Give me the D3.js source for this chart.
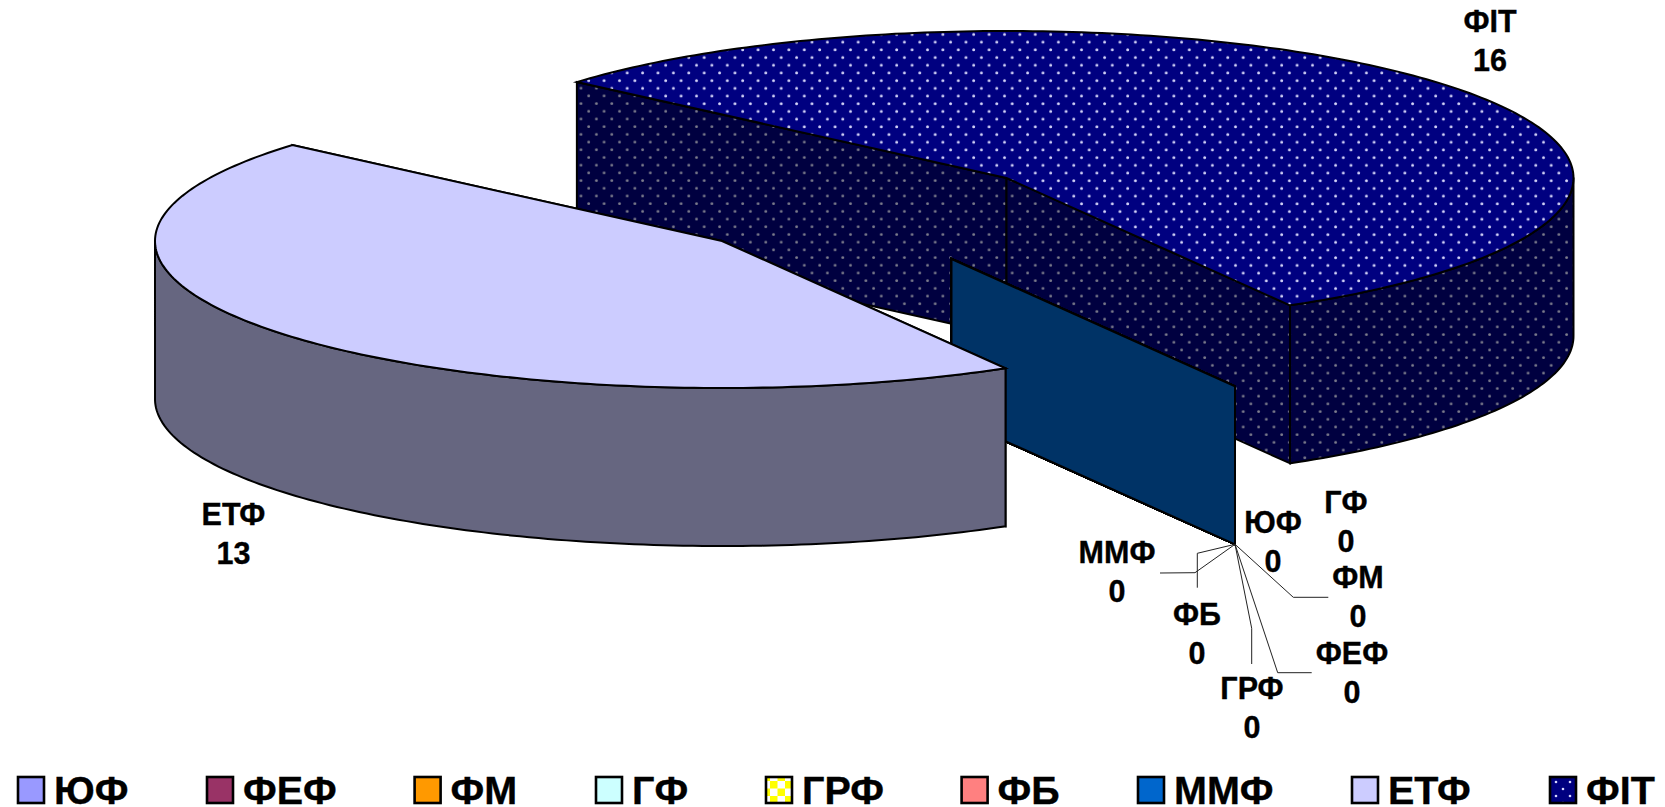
<!DOCTYPE html>
<html><head><meta charset="utf-8">
<script src="https://cdn.jsdelivr.net/npm/d3@7"></script>
<style>html,body{margin:0;padding:0;background:#fff;overflow:hidden}svg{display:block}text{font-family:"Liberation Sans",Arial,sans-serif;font-weight:bold;fill:#000;stroke:#000;stroke-width:.35px}</style>
</head><body><svg id="c" width="1665" height="807"></svg>
<script>
// ---- data ----
const categories = ["ЮФ","ФЕФ","ФМ","ГФ","ГРФ","ФБ","ММФ","ЕТФ","ФІТ"];
const values = [0,0,0,0,0,0,0,13,16];
const colors = ["#9999FF","#993366","#FF9900","#CCFFFF","#FFFF00","#FF8080","#0066CC","#CCCCFF","#000080"];

// ---- layout ----
const W=1665,H=807, RX=567, RY=147, DEPTH=158, START=150, PERSPECTIVE=0.33*Math.PI/180;
const centres = {zero:[951.5,259], "ЕТФ":[722,241], "ФІТ":[1006.5,178]};
const labelPos = {"ЮФ":[1273,522.3],"ФЕФ":[1352,653.3],"ФМ":[1358,577.3],"ГФ":[1346,502.3],"ГРФ":[1252,688.3],"ФБ":[1197,614.3],"ММФ":[1117,552.3],"ЕТФ":[233.5,514.3],"ФІТ":[1490,21.5]};
const leaders = {"ММФ":[[1195,572.7],[1160,573]],"ФБ":[[1197.3,553.3],[1197.3,587.7]],"ГРФ":[[1251.7,628.3],[1251.7,664]],"ФЕФ":[[1277.7,672.7],[1311.7,672.7]],"ФМ":[[1293.3,597.3],[1328.3,597.3]]};
const legendX = [18,207,414.6,596,766,961.6,1138,1352,1550];
const LABEL_SIZE=30.5, LABEL_LEAD=38.8, LEGEND_SIZE=39.5;

const svg=d3.select("#c");
const defs=svg.append("defs");
function dots(id,bg,dot,r){
  const p=defs.append("pattern").attr("id",id).attr("patternUnits","userSpaceOnUse").attr("width",15.4).attr("height",15.4);
  p.append("rect").attr("width",15.4).attr("height",15.4).attr("fill",bg);
  [[3.5,3.5],[11.2,11.2]].forEach(c=>p.append("circle").attr("cx",c[0]).attr("cy",c[1]).attr("r",r).attr("fill",dot));
}
dots("fitTop","#000080","#d4d4f8",1.45);
dots("fitSide","#000040","#7c7c8c",1.4);
const chk=defs.append("pattern").attr("id","chk").attr("patternUnits","userSpaceOnUse").attr("width",15).attr("height",15).attr("x",770).attr("y",781);
chk.append("rect").attr("width",15).attr("height",15).attr("fill","#fff");
chk.append("rect").attr("width",7.5).attr("height",7.5).attr("fill","#FFFF00");
chk.append("rect").attr("x",7.5).attr("y",7.5).attr("width",7.5).attr("height",7.5).attr("fill","#FFFF00");
const lg=defs.append("pattern").attr("id","fitLegend").attr("patternUnits","userSpaceOnUse").attr("width",14).attr("height",14).attr("x",1552).attr("y",778);
lg.append("rect").attr("width",14).attr("height",14).attr("fill","#000080");
[[4,4],[11,11]].forEach(c=>lg.append("circle").attr("cx",c[0]).attr("cy",c[1]).attr("r",1.3).attr("fill","#d8d8ff"));

const topFill=(c,i)=>categories[i]==="ФІТ"?"url(#fitTop)":c;
const halve=c=>{const r=d3.rgb(c);return d3.rgb(r.r/2,r.g/2,r.b/2).formatHex();};
const sideFill=(c,i)=>categories[i]==="ФІТ"?"url(#fitSide)":halve(c);

const startRad=START*Math.PI/180;
const pie=d3.pie().sort(null).startAngle(startRad).endAngle(startRad+2*Math.PI);
const arcs=pie(values).map((d,i)=>({a0:d.startAngle,a1:d.endAngle,i,name:categories[i],v:values[i]}));
const centreOf=d=>d.v===0?centres.zero:centres[d.name];
// the 3D view squeezes angles a little away from the front edge
const warp=a=>a-PERSPECTIVE*(1-Math.cos(a-startRad));
const pt=(c,a,dz=0)=>{const w=warp(a);return [c[0]+RX*Math.sin(w),c[1]-RY*Math.cos(w)+dz];};
const samples=(a0,a1)=>{const n=Math.max(2,Math.ceil(Math.abs(a1-a0)*180/Math.PI));return d3.range(n+1).map(k=>a0+(a1-a0)*k/n);};
const line=d3.line();

const g=svg.append("g").attr("stroke","#000").attr("stroke-width",2).attr("stroke-linejoin","miter");
function drawSlice(d){
  const c=centreOf(d), fillS=sideFill(colors[d.i],d.i), fillT=topFill(colors[d.i],d.i);
  [d.a0,d.a1].forEach(a=>{
    g.append("path").attr("fill",fillS).attr("d",line([c,pt(c,a),pt(c,a,DEPTH),[c[0],c[1]+DEPTH]])+"Z");
  });
  if(d.v===0) return;
  [0,2*Math.PI].forEach(k=>{
    const lo=Math.max(d.a0,Math.PI/2+k), hi=Math.min(d.a1,3*Math.PI/2+k);
    if(hi>lo){
      const s=samples(lo,hi);
      g.append("path").attr("fill",fillS).attr("d",line(s.map(a=>pt(c,a)).concat(s.slice().reverse().map(a=>pt(c,a,DEPTH))))+"Z");
    }
  });
  g.append("path").attr("fill",fillT).attr("d",line([c].concat(samples(d.a0,d.a1).map(a=>pt(c,a))))+"Z");
}
drawSlice(arcs.find(d=>d.name==="ФІТ"));
arcs.filter(d=>d.v===0).forEach(drawSlice);
drawSlice(arcs.find(d=>d.name==="ЕТФ"));

const tip=pt(centres.zero,startRad,DEPTH);
const lines=svg.append("g").attr("fill","none").attr("stroke","#222").attr("stroke-width",1);
Object.keys(leaders).forEach(k=>lines.append("path").attr("d",line([tip].concat(leaders[k]))));

categories.forEach((n,i)=>{
  const [x,y]=labelPos[n];
  const t=svg.append("text").attr("text-anchor","middle").attr("font-size",LABEL_SIZE);
  t.append("tspan").attr("x",x).attr("y",y+LABEL_SIZE*0.36).text(n);
  t.append("tspan").attr("x",x).attr("y",y+LABEL_LEAD+LABEL_SIZE*0.36).text(values[i]);
});

categories.forEach((n,i)=>{
  const x=legendX[i];
  const fill=n==="ФІТ"?"url(#fitLegend)":n==="ГРФ"?"url(#chk)":colors[i];
  svg.append("rect").attr("x",x).attr("y",777).attr("width",26).attr("height",26).attr("fill",fill).attr("stroke","#000").attr("stroke-width",2.6);
  svg.append("text").attr("x",x+36).attr("y",803.5).attr("font-size",LEGEND_SIZE).text(n);
});
</script></body></html>
